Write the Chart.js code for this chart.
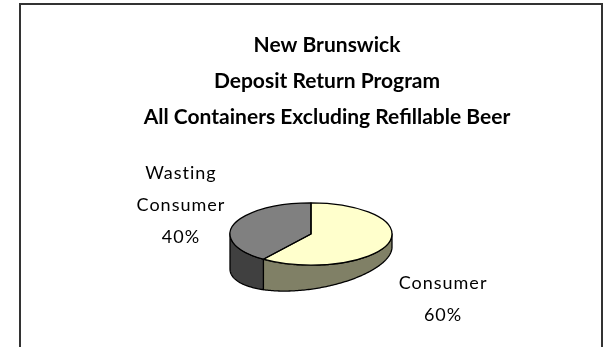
<!DOCTYPE html>
<html>
<head>
<meta charset="utf-8">
<script src="https://cdn.jsdelivr.net/npm/chart.js@4"></script>
<style>
    html, body { margin: 0; padding: 0; background: #fff; }
    #wrap { position: relative; width: 608px; height: 347px; overflow: hidden; }
    #frame {
        position: absolute; left: 19px; top: 3px; width: 580px; height: 400px;
        border: 2px solid #333; border-bottom: none;
    }
    #chart { position: absolute; left: 0; top: 0; }
</style>
</head>
<body>
<div id="wrap">
    <div id="frame"></div>
    <canvas id="chart" width="608" height="347"></canvas>
</div>
<script>
// 数据
const titleLines = ['New Brunswick', 'Deposit Return Program', 'All Containers Excluding Refillable Beer'];
const categories = [['Consumer'], ['Wasting', 'Consumer']];
const shares = [60, 40];
const topColors = ['#FFFFCC', '#808080'];
const sideColors = ['#808066', '#404040'];

// 伪3D饼图：压扁顶面 + 前侧面
const pie3d = {
    id: 'pie3d',
    beforeDatasetsDraw(chart, args, opts) {
        const arcs = chart.getDatasetMeta(0).data;
        if (!arcs.length) return;
        const ctx = chart.ctx;
        const {x, y, outerRadius: r} = arcs[0];
        const cx = x + opts.shiftX;
        const ry = r * opts.tilt;
        const depth = t => opts.depth - opts.skew * Math.cos(t);

        // 侧面只画前半圈 (0..PI)
        arcs.forEach((arc, i) => {
            for (let k = -1; k <= 1; k++) {
                const s = Math.max(arc.startAngle, 2 * Math.PI * k);
                const e = Math.min(arc.endAngle, Math.PI + 2 * Math.PI * k);
                if (e <= s) continue;
                const n = Math.max(2, Math.ceil((e - s) / 0.02));
                ctx.beginPath();
                for (let j = 0; j <= n; j++) {
                    const t = s + (e - s) * j / n;
                    const px = cx + r * Math.cos(t), py = y + ry * Math.sin(t);
                    j === 0 ? ctx.moveTo(px, py) : ctx.lineTo(px, py);
                }
                for (let j = n; j >= 0; j--) {
                    const t = s + (e - s) * j / n;
                    ctx.lineTo(cx + r * Math.cos(t), y + ry * Math.sin(t) + depth(t));
                }
                ctx.closePath();
                ctx.fillStyle = opts.sideColors[i];
                ctx.fill();
                ctx.lineWidth = opts.lineWidth;
                ctx.strokeStyle = '#000';
                ctx.lineJoin = 'round';
                ctx.stroke();
            }
        });

        // 顶面由 Chart.js 绘制，先做变形
        ctx.save();
        ctx.translate(cx, y);
        ctx.scale(1, opts.tilt);
        ctx.translate(-x, -y);
    },
    afterDatasetsDraw(chart, args, opts) {
        const arcs = chart.getDatasetMeta(0).data;
        if (!arcs.length) return;
        const ctx = chart.ctx;
        ctx.restore();
        const {x, y, outerRadius: r} = arcs[0];
        const cx = x + opts.shiftX;
        const ry = r * opts.tilt;

        // 顶面描边
        ctx.lineWidth = opts.lineWidth;
        ctx.strokeStyle = '#000';
        ctx.lineJoin = 'round';
        arcs.forEach(arc => {
            ctx.beginPath();
            ctx.moveTo(cx, y);
            ctx.ellipse(cx, y, r, ry, 0, arc.startAngle, arc.endAngle);
            ctx.closePath();
            ctx.stroke();
        });

        // 数据标签
        const data = chart.data.datasets[0].data;
        const total = data.reduce((a, b) => a + b, 0);
        ctx.fillStyle = '#000';
        ctx.font = opts.labelFont;
        ctx.letterSpacing = opts.letterSpacing;
        ctx.textAlign = 'center';
        ctx.textBaseline = 'middle';
        arcs.forEach((arc, i) => {
            const mid = (arc.startAngle + arc.endAngle) / 2;
            const ex = cx + r * Math.cos(mid) + opts.labelOffsets[i][0];
            const ey = y + ry * Math.sin(mid) + opts.labelOffsets[i][1];
            const lines = [...chart.data.labels[i], Math.round(data[i] / total * 100) + '%'];
            const top = ey - (lines.length - 1) * opts.lineHeight / 2;
            lines.forEach((line, j) => ctx.fillText(line, ex, top + j * opts.lineHeight));
        });
        ctx.letterSpacing = '0px';
    }
};

new Chart(document.getElementById('chart'), {
    type: 'pie',
    data: {
        labels: categories,
        datasets: [{
            data: shares,
            backgroundColor: topColors,
            borderWidth: 0,
            hoverOffset: 0,
            offset: 0
        }]
    },
    options: {
        responsive: false,
        animation: false,
        events: [],
        radius: 81,
        layout: { padding: { top: 0, bottom: 32, left: 46, right: 0 } },
        plugins: {
            legend: { display: false },
            tooltip: { enabled: false },
            title: {
                display: true,
                text: titleLines,
                color: '#000',
                font: { family: 'Lato', size: 21, weight: 'bold', lineHeight: 36 / 21 },
                padding: { top: 27, bottom: 18 }
            },
            pie3d: {
                shiftX: -16,
                tilt: 0.385,
                depth: 24,
                skew: 11,
                lineWidth: 1.3,
                sideColors: sideColors,
                labelFont: '18px Lato',
                letterSpacing: '1px',
                lineHeight: 32,
                labelOffsets: [[55, 56], [-53, -19]]
            }
        }
    },
    plugins: [pie3d]
});
</script>
</body>
</html>
